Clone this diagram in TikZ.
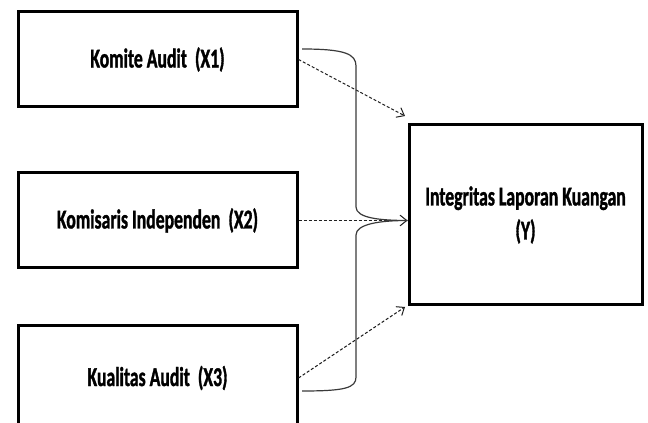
\documentclass[tikz,border=0pt]{standalone}
\usepackage{fontspec}
\usepackage{xcolor}
\usepackage{tikz}
\usetikzlibrary{arrows.meta}
\newfontfamily\boxfont{Carlito}[FakeStretch=0.65, FakeBold=1.2]
\definecolor{bracecolor}{HTML}{3a3a3a}
\definecolor{dashcolor}{HTML}{202020}
\tikzset{
  varbox/.style={draw, rectangle, line width=2.25pt, minimum width=209.25pt, minimum height=71.25pt, font=\boxfont\bfseries\fontsize{20.4pt}{25.5pt}\selectfont},
  dasharrow/.style={draw=dashcolor, line width=0.75pt, dash pattern=on 2.25pt off 1.5pt, -{Straight Barb[length=5pt,width=8pt]}},
  bracepath/.style={draw=bracecolor, line width=0.9pt},
}

\begin{document}
\begin{tikzpicture}[x=0.75pt, y=-0.75pt]%
\useasboundingbox (0,0) rectangle (648,423);%
\node[varbox] (x1) at (157.5, 59.5) {Komite Audit~ (X1)};%
\node[varbox] (x2) at (157.5, 220.5) {Komisaris Independen~ (X2)};%
\node[varbox, minimum height=79.5pt] (x3) at (157.5, 378) {Kualitas Audit~ (X3)};%
\node[varbox, minimum width=174.75pt, minimum height=135pt, align=center] (y) at (525.5, 215) {Integritas Laporan Kuangan\\(Y)};%
\coordinate (t1) at (405, 116);%
\coordinate (t3) at (405, 307);%
\coordinate (b1) at (302, 49);%
\coordinate (b3) at (302, 391);%
\draw[dasharrow] (x1.east) -- (t1);%
\draw[dasharrow] (x2.east) -- (x2.east -| y.west);%
\draw[dasharrow] (x3.east) -- (t3);%
\draw[bracepath] (b1) .. controls (345, 49) and (356, 54) .. (356, 66) -- (356, 207) .. controls (356, 218) and (380, 220.5) .. (x2.east -| y.west) .. controls (380, 220.5) and (356, 224) .. (356, 235) -- (356, 377) .. controls (356, 388) and (345, 391) .. (b3);%
\end{tikzpicture}
\end{document}
